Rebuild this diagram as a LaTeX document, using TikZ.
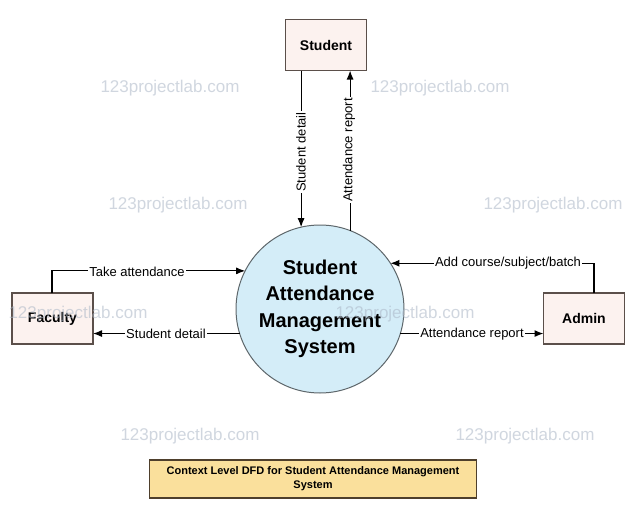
\documentclass[tikz,border=0pt]{standalone}
\usepackage{fontspec}
\setmainfont{Liberation Sans}
\usetikzlibrary{arrows.meta}
\definecolor{boxfill}{HTML}{FCF2EF}
\definecolor{boxdraw}{HTML}{5B4F4A}
\definecolor{circfill}{HTML}{D4EDF8}
\definecolor{circdraw}{HTML}{5E676B}
\definecolor{titlefill}{HTML}{FAE09C}
\definecolor{titledraw}{HTML}{4E3F2C}
\definecolor{wm}{HTML}{AAB6C6}
\begin{document}
\begin{tikzpicture}[x=1pt,y=-1pt,
  ext/.style={draw=boxdraw, line width=1.3pt, fill=boxfill, minimum width=81pt, minimum height=51pt, inner sep=0pt, outer sep=0pt, font=\fontsize{14}{16}\selectfont\bfseries},
  proc/.style={circle, draw=circdraw, line width=1pt, fill=circfill, minimum size=168pt, inner sep=0pt, outer sep=0pt, align=center, font=\fontsize{20}{26.5}\selectfont\bfseries},
  flow/.style={line width=1.1pt, -{Latex[length=9pt,width=7pt]}},
  lbl/.style={fill=white, inner sep=1pt, font=\fontsize{13}{15}\selectfont},
  wmark/.style={text=wm, opacity=0.55, inner sep=0pt, font=\fontsize{17}{19}\selectfont},
  titlebox/.style={draw=titledraw, line width=1.2pt, fill=titlefill, minimum width=327pt, minimum height=38pt, inner sep=0pt, align=center, font=\fontsize{11}{14}\selectfont\bfseries}]
\useasboundingbox (0,0) rectangle (625,509);
\fill[white] (0,0) rectangle (625,509);

\node[proc] (sys) at (320,309) {Student\\Attendance\\Management\\System};
\node[ext] (stud) at (326,45) {Student};
\node[ext] (fac) at (52.5,318.5) {Faculty};
\node[ext] (adm) at (584,318.5) {Admin};
\node[titlebox] (title) at (313,479) {Context Level DFD for Student Attendance Management\\System};

\coordinate (fx) at (52,0);
\coordinate (ax) at (594,0);

% Student <-> system
\draw[flow] (sys.103.1 |- stud.south) -- (sys.103.1);
\draw[flow] (sys.69.8) -- (sys.69.8 |- stud.south);
\node[lbl, rotate=90] (l1) at (301,152) {Student detail};
\node[lbl, rotate=90] (l2) at (349,150) {Attendance report};

% Faculty <-> system
\draw[flow] (fac.north -| fx) |- (sys.153.87);
\draw[flow] (sys.197.3) -- (sys.197.3 -| fac.east);
\node[lbl] (l3) at (137,272) {Take attendance};
\node[lbl] (l4) at (166,334) {Student detail};

% Admin <-> system
\draw[flow] (adm.north -| ax) |- (sys.33.2);
\draw[flow] (sys.-17.3) -- (sys.-17.3 -| adm.west);
\node[lbl] (l5) at (508,263) {Add course/subject/batch};
\node[lbl] (l6) at (472,334) {Attendance report};

% watermarks
\node[wmark] (w1) at (170,88) {123projectlab.com};
\node[wmark] (w2) at (440,88) {123projectlab.com};
\node[wmark] (w3) at (178,205) {123projectlab.com};
\node[wmark] (w4) at (553,205) {123projectlab.com};
\node[wmark] (w5) at (78,314) {123projectlab.com};
\node[wmark] (w6) at (405,314) {123projectlab.com};
\node[wmark] (w7) at (190,436) {123projectlab.com};
\node[wmark] (w8) at (525,436) {123projectlab.com};
\end{tikzpicture}
\end{document}
